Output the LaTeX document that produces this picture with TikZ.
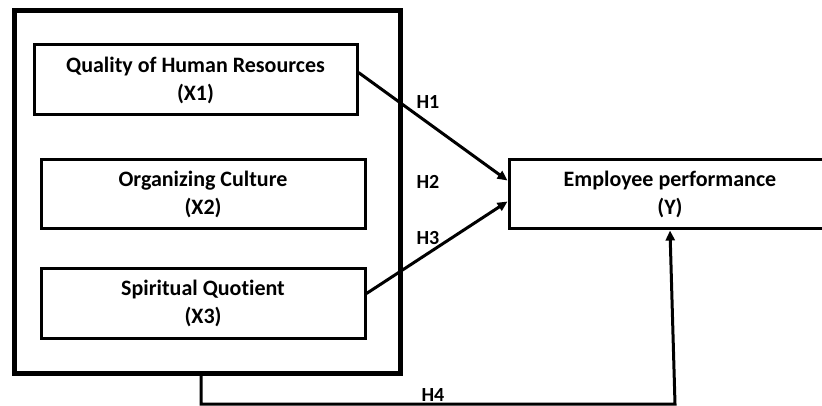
\documentclass[tikz,border=0pt]{standalone}
\usepackage{fontspec}
\setmainfont[Ligatures=NoCommon]{Carlito}
\usetikzlibrary{arrows.meta,calc}
\begin{document}
\begin{tikzpicture}[x=1pt,y=-1pt,
  box/.style={draw,line width=3pt,rectangle,inner sep=0pt,align=center,
    font=\fontsize{22}{28}\selectfont\bfseries},
  hlabel/.style={font=\fontsize{20}{22}\selectfont\bfseries,inner sep=0pt},
  conn/.style={line width=3pt,-{Triangle[length=10pt,width=9pt]}}]
\clip (0,0) rectangle (822,406);
\useasboundingbox (0,0) rectangle (822,406);
\node[draw,line width=5pt,minimum width=386pt,minimum height=363pt,inner sep=0pt] (outer) at (207.5,192) {};
\node[box,minimum width=323pt,minimum height=70pt] (x1) at (195.5,80) {Quality of Human Resources\\(X1)};
\node[box,minimum width=324pt,minimum height=69pt] (x2) at (203,194.5) {Organizing Culture\\(X2)};
\node[box,minimum width=324pt,minimum height=70pt] (x3) at (203,303) {Spiritual Quotient\\(X3)};
\node[box,minimum width=322pt,minimum height=69pt] (y) at (670,194.5) {Employee performance\\(Y)};
\coordinate (s1) at ($(x1.north east)+(0,29)$);
\coordinate (t1) at ($(y.north west)+(0,22)$);
\coordinate (s3) at ($(x3.north east)+(0,27)$);
\coordinate (t3) at ($(y.north west)+(0,43)$);
\draw[conn] (s1) -- (t1);
\draw[conn] (s3) -- (t3);
\coordinate (a) at (outer.south -| 201,0);
\coordinate (b) at (201,404);
\coordinate (c) at (675,404);
\coordinate (d) at (y.south);
\draw[line width=3pt,-{Triangle[length=10pt,width=9pt]}] (a) -- (b) -- (c) -- (d);
\node[hlabel] (h1) at (428,102) {H1};
\node[hlabel] (h2) at (428,182) {H2};
\node[hlabel] (h3) at (428,238) {H3};
\node[hlabel] (h4) at (433,395) {H4};
\end{tikzpicture}
\end{document}
